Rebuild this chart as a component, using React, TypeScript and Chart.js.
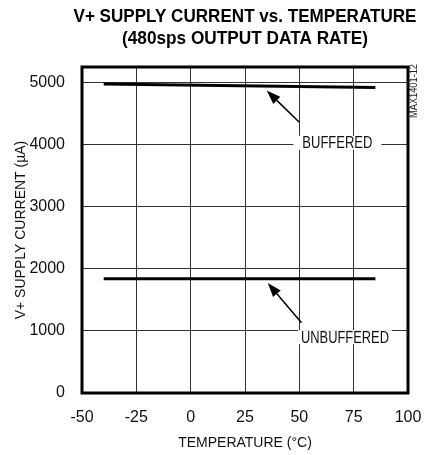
import React, { useEffect, useRef } from 'react';
import { Chart, registerables } from 'chart.js';

Chart.register(...registerables);

// ---- data ----
const bufferedTemps = [-40, 85];
const bufferedCurrent = [4975, 4920];
const unbufferedTemps = [-40, 85];
const unbufferedCurrent = [1840, 1840];
const xTickValues = [-50, -25, 0, 25, 50, 75, 100];
const yTickValues = [0, 1000, 2000, 3000, 4000, 5000];
const titleLines = ['V+ SUPPLY CURRENT vs. TEMPERATURE', '(480sps OUTPUT DATA RATE)'];
const xTitle = 'TEMPERATURE (°C)';
const yTitle = 'V+ SUPPLY CURRENT (µA)';
const watermark = 'MAX1401-12';
const labelNames = ['BUFFERED', 'UNBUFFERED'];
const labelTemps = [67.5, 71];
const labelCurrents = [4030, 900];
const arrowTailTemps = [50, 51];
const arrowTailCurrents = [4360, 1130];
const arrowTipTemps = [35, 35.5];
const arrowTipCurrents = [4870, 1770];

const SANS = "'Liberation Sans', Arial, sans-serif";

const overlayPlugin = {
  id: 'overlay',
  afterDatasetsDraw(chart: any) {
    const { ctx, chartArea: a, scales } = chart;
    const xs = scales.x;
    const ys = scales.y;
    ctx.save();
    // labels with white background
    ctx.font = `16px ${SANS}`;
    ctx.textAlign = 'center';
    ctx.textBaseline = 'middle';
    const padX = [9, 3];
    const maxW = [70, 88];
    for (let i = 0; i < labelNames.length; i++) {
      const lx = xs.getPixelForValue(labelTemps[i]);
      const ly = ys.getPixelForValue(labelCurrents[i]);
      const w = Math.min(ctx.measureText(labelNames[i]).width, maxW[i]);
      ctx.fillStyle = '#fff';
      ctx.fillRect(lx - w / 2 - padX[i], ly - 7, w + 2 * padX[i], 14);
      ctx.fillStyle = '#111';
      ctx.fillText(labelNames[i], lx, ly + 1, maxW[i]);
    }
    // arrows
    for (let i = 0; i < arrowTipTemps.length; i++) {
      const x0 = xs.getPixelForValue(arrowTailTemps[i]);
      const y0 = ys.getPixelForValue(arrowTailCurrents[i]);
      const x1 = xs.getPixelForValue(arrowTipTemps[i]);
      const y1 = ys.getPixelForValue(arrowTipCurrents[i]);
      const ang = Math.atan2(y1 - y0, x1 - x0);
      const head = 14;
      const half = 5;
      const bx = x1 - head * Math.cos(ang);
      const by = y1 - head * Math.sin(ang);
      ctx.strokeStyle = '#000';
      ctx.lineWidth = 1.5;
      ctx.beginPath();
      ctx.moveTo(x0, y0);
      ctx.lineTo(bx, by);
      ctx.stroke();
      ctx.fillStyle = '#000';
      ctx.beginPath();
      ctx.moveTo(x1, y1);
      ctx.lineTo(bx + half * Math.sin(ang), by - half * Math.cos(ang));
      ctx.lineTo(bx - half * Math.sin(ang), by + half * Math.cos(ang));
      ctx.closePath();
      ctx.fill();
    }
    // frame
    ctx.strokeStyle = '#000';
    ctx.lineWidth = 3;
    ctx.strokeRect(a.left, a.top, a.right - a.left, a.bottom - a.top);
    ctx.restore();
  },
  afterDraw(chart: any) {
    const { ctx, chartArea: a } = chart;
    ctx.save();
    ctx.fillStyle = '#000';
    ctx.font = `bold 18px ${SANS}`;
    ctx.textAlign = 'center';
    ctx.textBaseline = 'middle';
    const cx = (a.left + a.right) / 2;
    ctx.fillText(titleLines[0], cx, 17, 343);
    ctx.fillText(titleLines[1], cx, 39, 246);
    // watermark
    ctx.font = `10px ${SANS}`;
    ctx.fillStyle = '#222';
    ctx.translate(a.right + 6, a.top + 24);
    ctx.rotate(-Math.PI / 2);
    ctx.textAlign = 'center';
    ctx.textBaseline = 'middle';
    ctx.fillText(watermark, 0, 0, 54);
    ctx.restore();
  },
};

export default function App() {
  const ref = useRef<HTMLCanvasElement | null>(null);
  useEffect(() => {
    if (!ref.current) return;
    const chart = new Chart(ref.current, {
      type: 'line',
      data: {
        datasets: [
          {
            label: 'BUFFERED',
            data: bufferedTemps.map((t, i) => ({ x: t, y: bufferedCurrent[i] })),
            borderColor: '#000',
            borderWidth: 3,
            pointRadius: 0,
            tension: 0,
          },
          {
            label: 'UNBUFFERED',
            data: unbufferedTemps.map((t, i) => ({ x: t, y: unbufferedCurrent[i] })),
            borderColor: '#000',
            borderWidth: 3,
            pointRadius: 0,
            tension: 0,
          },
        ],
      },
      options: {
        animation: false,
        responsive: false,
        maintainAspectRatio: false,
        layout: { padding: { top: 67, right: 16, left: 0, bottom: 0 } },
        plugins: {
          legend: { display: false },
          title: { display: false },
          tooltip: { enabled: false },
        },
        scales: {
          x: {
            type: 'linear',
            min: -50,
            max: 100,
            afterBuildTicks: (s: any) => {
              s.ticks = xTickValues.map((v) => ({ value: v }));
            },
            afterFit: (s: any) => {
              s.height = 62;
              s.paddingLeft = 0;
              s.paddingRight = 0;
            },
            grid: { color: '#333', lineWidth: 1, drawTicks: false },
            border: { display: false },
            ticks: {
              color: '#111',
              padding: 15,
              font: { family: SANS, size: 16 },
              maxRotation: 0,
              callback: (v: any) => String(v),
            },
            title: {
              display: true,
              text: xTitle,
              color: '#111',
              font: { family: SANS, size: 14 },
              padding: { top: 0, bottom: 3 },
            },
          },
          y: {
            type: 'linear',
            min: 0,
            max: 5250,
            afterBuildTicks: (s: any) => {
              s.ticks = yTickValues.map((v) => ({ value: v }));
            },
            afterFit: (s: any) => {
              s.width = 82;
              s.paddingTop = 0;
              s.paddingBottom = 0;
            },
            grid: { color: '#333', lineWidth: 1, drawTicks: false },
            border: { display: false },
            ticks: {
              color: '#111',
              padding: 17,
              font: { family: SANS, size: 16 },
              callback: (v: any) => String(v),
            },
            title: {
              display: true,
              text: yTitle,
              color: '#111',
              font: { family: SANS, size: 14 },
              padding: { top: 13, bottom: 0 },
            },
          },
        },
      },
      plugins: [overlayPlugin],
    });
    return () => chart.destroy();
  }, []);
  return (
    <div style={{ position: 'fixed', left: 0, top: 0, width: 424, height: 455, background: '#fff' }}>
      <canvas ref={ref} width={424} height={455} style={{ width: 424, height: 455 }} />
    </div>
  );
}
